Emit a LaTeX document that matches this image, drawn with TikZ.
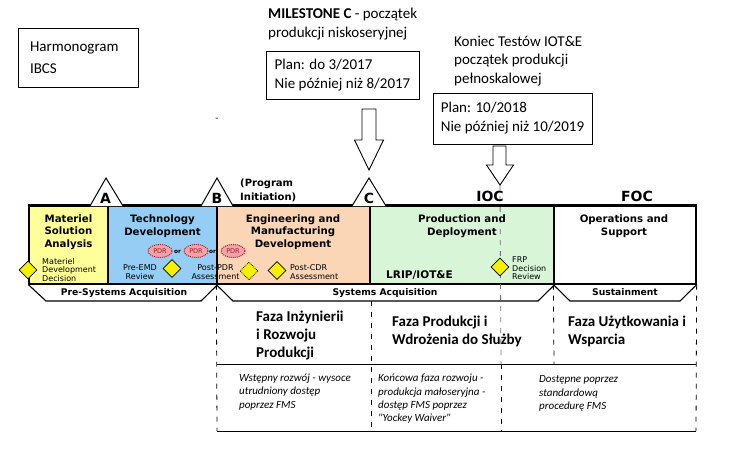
\documentclass[tikz,border=0pt]{standalone}
\usepackage{fontspec}
\setmainfont{Carlito}
\newfontfamily\dv{DejaVu Sans}
\usetikzlibrary{shapes.geometric}
\definecolor{cYel}{HTML}{FFFF99}
\definecolor{cBlue}{HTML}{95CDF5}
\definecolor{cPeach}{HTML}{FAD5B6}
\definecolor{cGreen}{HTML}{D8F5D8}
\definecolor{cDia}{HTML}{F5F000}
\definecolor{cPdr}{HTML}{F2A3A8}
\definecolor{cPdrLine}{HTML}{A02030}
\begin{document}
\begin{tikzpicture}[x=1pt,y=-1pt,
  phasebox/.style={draw, line width=1.3pt, inner sep=0pt},
  phasetxt/.style={font=\dv\bfseries\fontsize{10.2}{12.5}\selectfont, align=center, inner sep=0pt},
  smalltxt/.style={font=\dv\fontsize{8}{8.4}\selectfont, inner sep=0pt},
  ortxt/.style={font=\dv\bfseries\fontsize{5.8}{6}\selectfont, inner sep=0pt},
  bandtxt/.style={font=\dv\bfseries\fontsize{9.2}{10}\selectfont, inner sep=0pt},
  msltr/.style={font=\dv\bfseries\fontsize{14}{16}\selectfont, inner sep=0pt},
  plbox/.style={draw, line width=0.9pt, align=left, font=\fontsize{15}{19}\selectfont},
  pltxt/.style={align=left, inner sep=0pt, font=\fontsize{15}{18.5}\selectfont},
  fazatxt/.style={align=left, inner sep=0pt, font=\bfseries\fontsize{15}{18}\selectfont},
  itxt/.style={align=left, inner sep=0pt, font=\itshape\fontsize{11}{13.3}\selectfont},
  dia/.style={diamond, draw, line width=0.8pt, fill=cDia, minimum width=18pt, minimum height=18pt, inner sep=0pt},
  pdr/.style={ellipse, draw=cPdrLine, densely dotted, line width=1pt, fill=cPdr, minimum width=24pt, minimum height=13pt, inner sep=0pt, font=\dv\fontsize{6.5}{7}\selectfont, text=cPdrLine},
  tri/.style={draw, line width=1pt, fill=white},
  trap/.style={draw, line width=1.1pt},
  vdash/.style={line width=0.8pt, dash pattern=on 5pt off 6pt},
  blockarrow/.style={draw, line width=0.9pt, fill=white}
]
\useasboundingbox (0,0) rectangle (747,466);

% ---------- top annotations ----------
\node[draw, line width=0.9pt, minimum width=120pt, minimum height=59pt, text width=96pt, align=left, inner xsep=12pt, font=\fontsize{15}{22}\selectfont] (harm) at (78,57.5) {Harmonogram\\IBCS};
\node[inner sep=0pt, font=\fontsize{10}{10}\selectfont] (stray) at (217,120) {-};

\node[pltxt, anchor=west] (msC) at (268,24) {\textbf{MILESTONE C} - początek\\produkcji niskoseryjnej};
\node[plbox, minimum width=153pt, minimum height=48pt] (planC) at (342.5,75) {Plan: do 3/2017\\Nie później niż 8/2017};

\node[pltxt, anchor=west] (kon) at (454,61) {Koniec Testów IOT\&E\\początek produkcji\\pełnoskalowej};
\node[plbox, minimum width=159pt, minimum height=51pt] (planF) at (512.5,118.5) {Plan: 10/2018\\Nie później niż 10/2019};

% block arrows
\coordinate (a1tip) at (369,170);
\draw[blockarrow] (362,109) -- (376,109) -- (376,140) -- (383.5,140) -- (a1tip) -- (354.5,140) -- (362,140) -- cycle;
\coordinate (a2tip) at (500,185);
\draw[blockarrow] (493,146) -- (506,146) -- (506,165) -- (513.5,165) -- (a2tip) -- (486.5,165) -- (493,165) -- cycle;

% ---------- phase band ----------
\node[phasebox, fill=cYel,   minimum width=79pt,  minimum height=78pt] (msa) at (68.5,245) {};
\node[phasebox, fill=cBlue,  minimum width=109pt, minimum height=78pt] (td)  at (162.5,245) {};
\node[phasebox, fill=cPeach, minimum width=153pt, minimum height=78pt] (emd) at (293.5,245) {};
\node[phasebox, fill=cGreen, minimum width=184pt, minimum height=78pt] (pd)  at (462,245) {};
\node[phasebox, fill=white,  minimum width=142pt, minimum height=78pt] (os)  at (625,245) {};
\draw[line width=1.8pt] (msa.north west) -- (os.north east);

% IOC dashed line
\draw[vdash, draw=black!55] (a2tip) -- (501,364);

\node[phasetxt] (msaT) at (68.5,232) {Materiel\\Solution\\Analysis};
\node[phasetxt] (tdT)  at (162.5,226) {Technology\\Development};
\node[phasetxt] (emdT) at (293,232) {Engineering and\\Manufacturing\\Development};
\node[phasetxt] (pdT)  at (462,226) {Production and\\Deployment};
\node[phasetxt] (osT)  at (624,226) {Operations and\\Support};

% milestones / reviews
\node[dia] (mdd) at (28,270) {};
\node[smalltxt, anchor=west, align=left] (mddT) at (42,270) {Materiel\\Development\\Decision};
\node[pdr] (pdr1) at (160,251) {PDR};
\node[ortxt] (or1) at (177.5,251.5) {or};
\node[pdr] (pdr2) at (196,251) {PDR};
\node[ortxt] (or2) at (212.5,251.5) {or};
\node[pdr] (pdr3) at (233,251) {PDR};
\node[smalltxt, align=center] (preEmdT) at (140,272) {Pre-EMD\\Review};
\node[dia] (preEmd) at (172,268.5) {};
\node[smalltxt, align=center] (postPdrT) at (215.5,272) {Post-PDR\\Assessment};
\node[dia, densely dotted] (postPdr) at (249,271) {};
\node[dia] (postCdr) at (277,270.5) {};
\node[smalltxt, anchor=west, align=left] (postCdrT) at (290,272) {Post-CDR\\Assessment};
\node[font=\dv\bfseries\fontsize{10.5}{12}\selectfont, inner sep=0pt] (lrip) at (419.5,275) {LRIP/IOT\&E};
\node[dia] (frp) at (500,267) {};
\node[smalltxt, anchor=west, align=left] (frpT) at (512,268.5) {FRP\\Decision\\Review};

% milestone triangles
\draw[tri] (90,206) -- (106,178) -- (123,206);
\node[msltr] (mA) at (105.5,198) {A};
\draw[tri] (201,206) -- (217,178) -- (233,206);
\node[msltr] (mB) at (217,198) {B};
\draw[tri] (352,206) -- (369,178) -- (386,206);
\node[msltr] (mC) at (369,198) {C};
\node[font=\dv\bfseries\fontsize{10}{13.5}\selectfont, inner sep=0pt, align=left, anchor=west] (progInit) at (240,190.5) {(Program\\Initiation)};
\node[msltr] (ioc) at (490,196) {IOC};
\node[msltr] (foc) at (637,196) {FOC};

% acquisition trapezoids
\draw[trap] (msa.south west) -- (46,301) -- (201,301) -- (td.south east);
\draw[trap] (emd.south west) -- (233,301) -- (538,301) -- (pd.south east);
\draw[trap] (os.south west) -- (570,301) -- (680,301) -- (os.south east);
\node[bandtxt] (preSys) at (124,292.5) {Pre-Systems Acquisition};
\node[bandtxt] (sysAcq) at (385,293) {Systems Acquisition};
\node[bandtxt] (sust) at (625,292.5) {Sustainment};

% ---------- lower table ----------
\coordinate (tl) at (217,364);
\coordinate (tr) at (696,364);
\coordinate (bl) at (217,431);
\coordinate (br) at (696,431);
\draw[line width=1pt] (tl) -- (tr);
\draw[line width=1pt] (bl) -- (br);
\draw[vdash] (emd.south west) -- (bl);
\draw[vdash] (371,301) -- (371,431);
\draw[vdash] (os.south west) -- (554,364);
\draw[vdash] (os.south east) -- (br);
\draw[vdash] (501,364) -- (501,431);

\node[fazatxt, anchor=west] (fazaE) at (256,335) {Faza Inżynierii\\i Rozwoju\\Produkcji};
\node[fazatxt, anchor=west] (fazaP) at (392,331.5) {Faza Produkcji i\\Wdrożenia do Służby};
\node[fazatxt, anchor=west] (fazaU) at (568,331.5) {Faza Użytkowania i\\Wsparcia};

\node[itxt, anchor=west] (i1) at (239,392) {Wstępny rozwój - wysoce\\utrudniony dostęp\\poprzez FMS};
\node[itxt, anchor=west] (i2) at (378,399) {Końcowa faza rozwoju -\\produkcja małoseryjna -\\dostęp FMS poprzez\\\textquotedbl Yockey Waiver\textquotedbl};
\node[itxt, anchor=west] (i3) at (539,393.5) {Dostępne poprzez\\standardową\\procedurę FMS};
\end{tikzpicture}
\end{document}
